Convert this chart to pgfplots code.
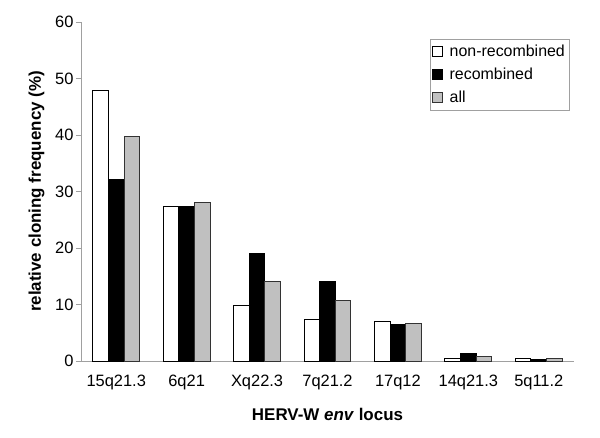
\documentclass[border=0pt]{standalone}
\usepackage{pgfplots}
\pgfplotsset{compat=1.18}
\usepackage{fontspec}
\setmainfont{Liberation Sans}
\definecolor{axgray}{HTML}{A0A0A0}
\definecolor{bargray}{HTML}{C0C0C0}
\begin{document}
\begin{tikzpicture}
\begin{axis}[
  scale only axis,
  width=493bp, height=339bp,
  xmin=-0.5, xmax=6.5,
  ymin=0, ymax=60,
  ytick={0,10,...,60},
  xtick={0,...,6},
  xticklabels={15q21.3,6q21,Xq22.3,7q21.2,17q12,14q21.3,5q11.2},
  extra x ticks={-0.5,0.5,...,6.5},
  extra x tick labels={},
  extra x tick style={major tick length=5bp, tick style={axgray, line width=0.6pt}},
  x tick style={draw=none},
  y tick style={axgray, line width=0.6pt},
  major tick length=5bp,
  tick align=outside,
  axis x line*=bottom,
  axis y line*=left,
  axis line style={axgray, line width=0.6pt},
  /pgf/number format/assume math mode=true,
  ticklabel style={font=\fontsize{16.5}{19}\selectfont},
  xticklabel style={yshift=-6bp},
  yticklabel style={xshift=1bp},
  ylabel={\bfseries relative cloning frequency (\%)},
  xlabel={\bfseries HERV-W \textit{env} locus},
  label style={font=\fontsize{17}{20}\selectfont},
  ylabel style={yshift=4bp},
  xlabel style={yshift=-1bp},
  ybar, bar width=0.222,
  legend style={at={(0.99,0.95)}, anchor=north east, draw=axgray,
    font=\fontsize{16}{19}\selectfont, row sep=6bp, inner xsep=2bp, inner ysep=4bp},
  legend cell align=left,
  legend image code/.code={\draw[#1, line width=0.8pt] (2bp,-5bp) rectangle (12bp,5bp);
    \path (17bp,0bp);},
]
\addplot[fill=white, draw=black, line width=1pt, bar shift=-0.222] coordinates {
(0,47.8) (1,27.4) (2,9.85) (3,7.4) (4,7.0) (5,0.4) (6,0.45)};
\addplot[fill=black, draw=black, line width=1pt, bar shift=0] coordinates {
(0,32.2) (1,27.4) (2,19.0) (3,14.0) (4,6.5) (5,1.4) (6,0.3)};
\addplot[fill=bargray, draw=black!80, line width=1pt, bar shift=0.222] coordinates {
(0,39.8) (1,28.0) (2,14.0) (3,10.7) (4,6.7) (5,0.8) (6,0.45)};
\legend{non-recombined, recombined, all}
\end{axis}
\path[use as bounding box] (current axis.south west) ++(-81bp,-77bp) rectangle ++(600bp,438bp);
\end{tikzpicture}
\end{document}
